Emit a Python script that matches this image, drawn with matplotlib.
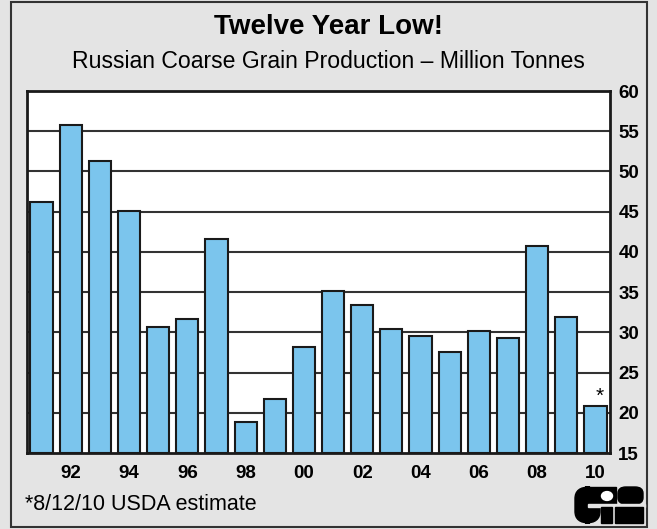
import matplotlib.pyplot as plt
from matplotlib.patches import Rectangle, FancyBboxPatch, Circle

plt.rcParams['font.family'] = ['Liberation Sans', 'DejaVu Sans']

years = ["91", "92", "93", "94", "95", "96", "97", "98", "99", "00",
         "01", "02", "03", "04", "05", "06", "07", "08", "09", "10"]
production = [46.2, 55.8, 51.3, 45.1, 30.7, 31.7, 41.6, 18.9, 21.7, 28.2,
              35.1, 33.4, 30.4, 29.5, 27.6, 30.2, 29.3, 40.7, 31.9, 20.8]
y_ticks = [15, 20, 25, 30, 35, 40, 45, 50, 55, 60]

BG = '#e4e4e4'

fig = plt.figure(figsize=(6.57, 5.29), dpi=100)
fig.patch.set_facecolor(BG)
# outer frame
fig.add_artist(Rectangle((11 / 657, 1 - 527 / 529), 636 / 657, 525 / 529,
                         transform=fig.transFigure, fill=False,
                         edgecolor='#333333', linewidth=1.5))

ax = fig.add_axes([27 / 657, 1 - 453 / 529, 583 / 657, 362 / 529])
ax.set_facecolor('white')

x = list(range(len(years)))
ax.bar(x, [v - 15 for v in production], bottom=15, width=0.76,
       color='#7bc5ed', edgecolor='#1a1a1a', linewidth=1.5, zorder=3)

ax.set_xlim(-0.5, len(years) - 0.5)
ax.set_ylim(15, 60)
for yv in y_ticks[1:-1]:
    ax.axhline(yv, color='#333333', linewidth=1.5, zorder=1)

ax.yaxis.tick_right()
ax.set_yticks(y_ticks)
ax.set_yticklabels([str(v) for v in y_ticks], fontsize=13.5, fontweight='bold')
ax.tick_params(axis='y', length=0, pad=6)

even = [i for i, y in enumerate(years) if int(y) % 2 == 0]
ax.set_xticks(even)
ax.set_xticklabels([years[i] for i in even], fontsize=13.5, fontweight='bold')
ax.tick_params(axis='x', length=0, pad=9)

for s in ax.spines.values():
    s.set_linewidth(2)
    s.set_color('#1a1a1a')

# asterisk on the estimate
ax.text(x[-1] + 0.15, production[-1] + 0.1, '*', ha='center', va='bottom',
        fontsize=15)

fig.text(0.5, 1 - 27 / 529, 'Twelve Year Low!', ha='center', va='center',
         fontsize=20, fontweight='bold')
fig.text(0.5, 1 - 62 / 529, 'Russian Coarse Grain Production \u2013 Million Tonnes',
         ha='center', va='center', fontsize=16.6)
fig.text(25 / 657, 1 - 505 / 529, '*8/12/10 USDA estimate', ha='left',
         va='center', fontsize=15.5)

# rough CIS logo
def px(xp, yp):
    return xp / 657, 1 - yp / 529

tf = fig.transFigure
fig.add_artist(FancyBboxPatch(px(575, 523), 25 / 657, 36 / 529,
                              boxstyle='round,pad=0,rounding_size=0.022',
                              transform=tf, color='black'))
fig.add_artist(Rectangle(px(590, 504), 26 / 657, 17 / 529, transform=tf,
                         color='black'))
fig.add_artist(Circle(px(607, 496), 5.5 / 657, transform=tf, color='white'))
fig.add_artist(FancyBboxPatch(px(618, 504), 25 / 657, 17 / 529,
                              boxstyle='round,pad=0,rounding_size=0.012',
                              transform=tf, color='black'))
fig.add_artist(Rectangle(px(588, 506.5), 57 / 657, 3 / 529, transform=tf,
                         color=BG))
fig.add_artist(Rectangle(px(601, 523), 11 / 657, 16.5 / 529, transform=tf,
                         color='black'))
fig.add_artist(Rectangle(px(615, 523), 28 / 657, 16.5 / 529, transform=tf,
                         color='black'))

fig.savefig('out.png', dpi=100, facecolor=fig.get_facecolor())
